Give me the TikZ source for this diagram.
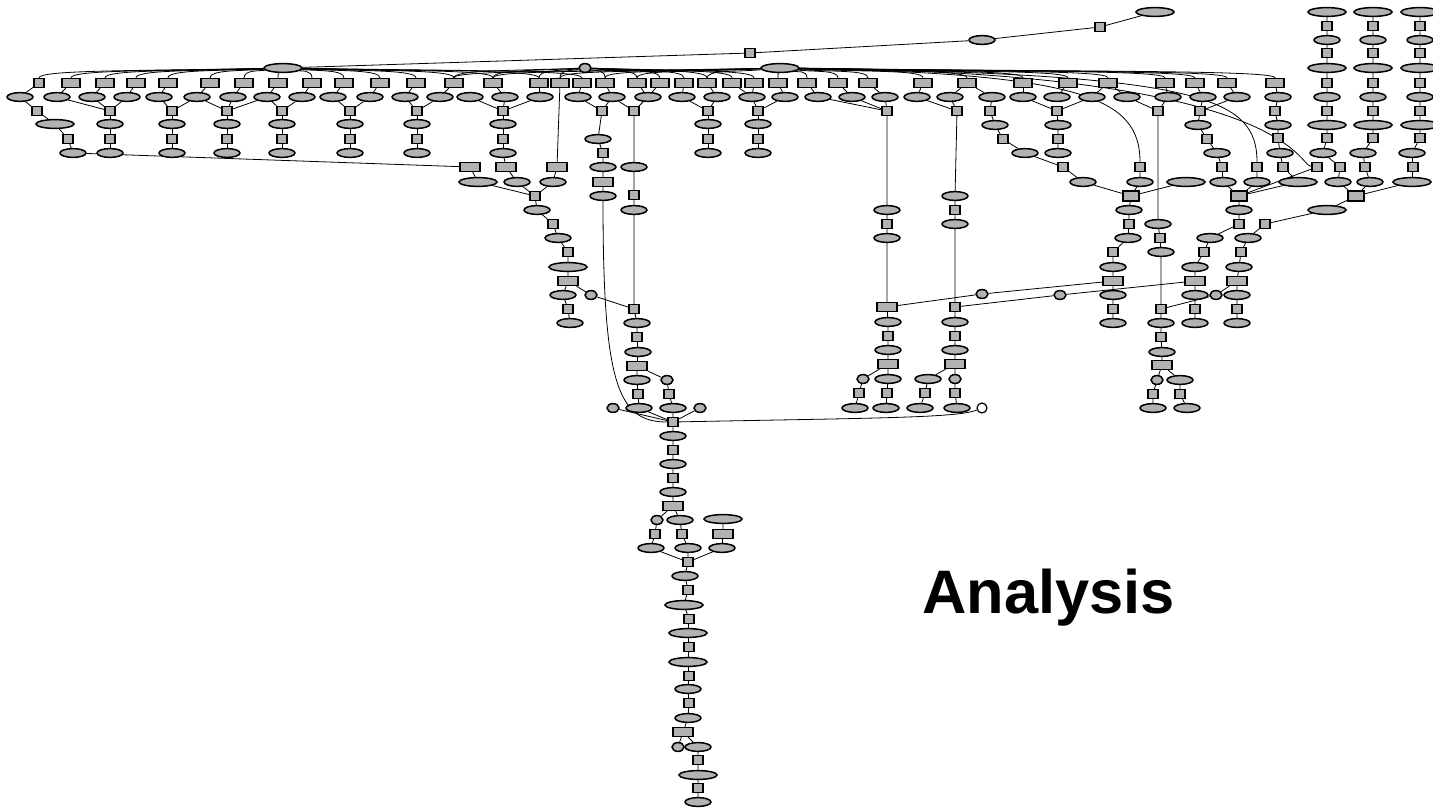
\documentclass[tikz,border=0pt]{standalone}
\usepackage{fontspec}
\setmainfont{Liberation Sans}
\usetikzlibrary{shapes.geometric,backgrounds}

\begin{document}
\begin{tikzpicture}[x=0.5pt,y=-0.5pt,
    el/.style={ellipse,draw,line width=0.75pt,fill=black!30,inner sep=0pt,minimum width=13pt,minimum height=4.4pt},
    wel/.style={el,minimum width=19pt},
    sel/.style={el,minimum width=6pt},
    bx/.style={rectangle,draw,line width=0.75pt,fill=black!30,inner sep=0pt,minimum width=5pt,minimum height=4.4pt},
    rbx/.style={bx,minimum width=9pt},
    wbx/.style={bx,minimum width=10pt},
    dbx/.style={bx,minimum width=8pt,minimum height=5pt,line width=1.1pt},
    circ/.style={circle,draw,line width=0.6pt,fill=white,inner sep=0pt,minimum size=5pt},
    wire/.style={line width=0.6pt}]
  \useasboundingbox (0,0) rectangle (1433,808);

  \node[wel] (top) at (1155,12) {};
  \node[bx] (tb) at (1100,27) {};
  \node[el] (te) at (982,40) {};
  \node[bx] (tc) at (750,53) {};
  \node[wel] (hubA) at (283,68) {};
  \node[sel] (hubB) at (585,68) {};
  \node[wel] (hubC) at (780,68) {};

  \node[bx] (r39) at (39,83) {};
  \foreach \x in {71,105,136,168,210,244,278,312,344,380,416,454,493,539,560,582,605,637,660,684,707,732,754,778,807,838,868,923,967,1023,1068,1108,1165,1195,1227,1275}
    \node[rbx] (r\x) at (\x,83) {};
  \foreach \x in {20,57,92,127,159,197,233,267,302,333,370,405,440,470,505,540,578,612,648,682,717,752,785,818,852,885,917,950,992,1023,1057,1092,1127,1168,1203,1237,1278}
    \node[el] (s\x) at (\x,97) {};
  \foreach \x in {37,110,172,227,282,350,417,503,602,634,708,758,887,957,990,1057,1158,1200,1275}
    \node[bx] (u\x) at (\x,111) {};
  \foreach \x in {110,172,227,282,350,417,503,708,758}{
    \node[el] (a\x) at (\x,124) {};
    \node[bx] (b\x) at (\x,139) {};
    \node[el] (c\x) at (\x,153) {};
  }

  \foreach \c/\d/\e in {1327/1323/1340,1373/1363/1365,1420/1412/1413}{
    \node[wel] (ga\c) at (\c,12) {};
    \node[bx] (gb\c) at (\c,26) {};
    \node[el] (gc\c) at (\c,40) {};
    \node[bx] (gd\c) at (\c,53) {};
    \node[wel] (ge\c) at (\c,68) {};
    \node[bx] (gf\c) at (\c,83) {};
    \node[el] (gg\c) at (\c,97) {};
    \node[bx] (gh\c) at (\c,111) {};
    \node[wel] (gi\c) at (\c,125) {};
    \node[bx] (gj\c) at (\c,138) {};
    \node[el] (gk\c) at (\d,153) {};
    \node[bx] (gl\c) at (\e,167) {};
  }

  \node[wel] (la) at (55,124) {};
  \node[bx] (lb) at (68,139) {};
  \node[el] (lc) at (73,153) {};

  \node[wbx] (m470) at (470,167) {};
  \node[wbx] (m506) at (506,167) {};
  \node[wbx] (m557) at (557,167) {};
  \node[wel] (m478) at (478,182) {};
  \node[el] (m517) at (517,182) {};
  \node[el] (m553) at (553,182) {};
  \node[bx] (n1) at (535,196) {};
  \node[el] (n2) at (537,210) {};
  \node[bx] (n3) at (553,224) {};
  \node[el] (n4) at (558,238) {};
  \node[bx] (n5) at (568,252) {};
  \node[wel] (n6) at (568,267) {};
  \node[wbx] (n7) at (568,281) {};
  \node[el] (n8) at (563,295) {};
  \node[sel] (n9) at (591,295) {};
  \node[bx] (n10) at (568,309) {};
  \node[el] (n11) at (570,323) {};

  \node[el] (p1) at (598,139) {};
  \node[bx] (p2) at (603,153) {};
  \node[el] (p3) at (603,167) {};
  \node[wbx] (p4) at (603,182) {};
  \node[el] (p5) at (603,196) {};

  \node[el] (q1) at (634,167) {};
  \node[bx] (q2) at (634,195) {};
  \node[el] (q3) at (634,210) {};
  \node[bx] (q4) at (634,309) {};
  \node[el] (q5) at (637,323) {};
  \node[bx] (q6) at (637,337) {};
  \node[el] (q7) at (638,352) {};
  \node[wbx] (q8) at (637,366) {};
  \node[el] (q9) at (637,380) {};
  \node[sel] (q10) at (667,380) {};
  \node[bx] (q11) at (638,394) {};
  \node[el] (q12) at (639,408) {};
  \node[bx] (q13) at (669,394) {};
  \node[el] (q14) at (673,408) {};
  \node[sel] (q15) at (613,408) {};
  \node[sel] (q16) at (700,408) {};

  \node[bx] (H) at (673,422) {};
  \node[el] (v1) at (673,436) {};
  \node[bx] (v2) at (673,450) {};
  \node[el] (v3) at (673,464) {};
  \node[bx] (v4) at (673,478) {};
  \node[el] (v5) at (673,492) {};
  \node[wbx] (v6) at (673,506) {};
  \node[sel] (v7) at (657,520) {};
  \node[el] (v8) at (680,520) {};
  \node[bx] (v9) at (655,534) {};
  \node[el] (v10) at (651,548) {};
  \node[bx] (v11) at (682,534) {};
  \node[el] (v12) at (688,548) {};
  \node[wel] (v13) at (723,519) {};
  \node[wbx] (v14) at (723,534) {};
  \node[el] (v15) at (722,548) {};
  \node[bx] (v16) at (688,562) {};
  \node[el] (v17) at (685,576) {};
  \node[bx] (v18) at (688,590) {};
  \node[wel] (v19) at (684,605) {};
  \node[bx] (v20) at (689,619) {};
  \node[wel] (v21) at (688,633) {};
  \node[bx] (v22) at (689,647) {};
  \node[wel] (v23) at (688,662) {};
  \node[bx] (v24) at (689,676) {};
  \node[el] (v25) at (688,689) {};
  \node[bx] (v26) at (689,703) {};
  \node[el] (v27) at (688,718) {};
  \node[wbx] (v28) at (683,732) {};
  \node[sel] (v29) at (678,747) {};
  \node[el] (v30) at (698,747) {};
  \node[bx] (v31) at (698,760) {};
  \node[wel] (v32) at (698,775) {};
  \node[bx] (v33) at (698,788) {};
  \node[el] (v34) at (698,802) {};

  \node[el] (w1) at (887,210) {};
  \node[bx] (w2) at (887,224) {};
  \node[el] (w3) at (887,238) {};
  \node[wbx] (w4) at (887,307) {};
  \node[el] (w5) at (888,322) {};
  \node[bx] (w6) at (888,336) {};
  \node[el] (w7) at (888,350) {};
  \node[wbx] (w8) at (888,364) {};
  \node[sel] (w9) at (863,379) {};
  \node[el] (w10) at (888,379) {};
  \node[bx] (w11) at (859,393) {};
  \node[el] (w12) at (855,408) {};
  \node[bx] (w13) at (887,393) {};
  \node[el] (w14) at (886,408) {};

  \node[el] (x1) at (955,196) {};
  \node[bx] (x2) at (955,210) {};
  \node[el] (x3) at (955,224) {};
  \node[bx] (x4) at (955,307) {};
  \node[el] (x5) at (955,322) {};
  \node[bx] (x6) at (955,336) {};
  \node[el] (x7) at (955,350) {};
  \node[wbx] (x8) at (955,364) {};
  \node[el] (x9) at (928,379) {};
  \node[sel] (x10) at (955,379) {};
  \node[bx] (x11) at (925,393) {};
  \node[el] (x12) at (920,408) {};
  \node[bx] (x13) at (955,393) {};
  \node[el] (x14) at (957,408) {};
  \node[circ] (circ) at (982,408) {};
  \node[sel] (y1) at (982,294) {};
  \node[sel] (y2) at (1060,295) {};

  \node[el] (k1) at (995,125) {};
  \node[bx] (k2) at (1003,139) {};
  \node[el] (k3) at (1025,153) {};
  \node[bx] (k4) at (1063,167) {};
  \node[el] (k5) at (1083,182) {};
  \node[el] (k6) at (1058,125) {};
  \node[bx] (k7) at (1058,139) {};
  \node[el] (k8) at (1058,153) {};
  \node[bx] (k9) at (1140,167) {};
  \node[el] (k10) at (1140,182) {};
  \node[wel] (k11) at (1186,182) {};
  \node[dbx] (K) at (1131,196) {};
  \node[el] (k12) at (1158,224) {};
  \node[bx] (k13) at (1160,238) {};
  \node[el] (k14) at (1161,252) {};
  \node[bx] (k15) at (1161,309) {};
  \node[el] (k16) at (1129,210) {};
  \node[bx] (k17) at (1129,224) {};
  \node[el] (k18) at (1128,238) {};
  \node[bx] (k19) at (1113,252) {};
  \node[el] (k20) at (1113,267) {};
  \node[wbx] (k21) at (1113,281) {};
  \node[el] (k22) at (1113,295) {};
  \node[bx] (k23) at (1113,309) {};
  \node[el] (k24) at (1113,323) {};

  \node[el] (j1) at (1198,125) {};
  \node[bx] (j2) at (1207,139) {};
  \node[el] (j3) at (1217,153) {};
  \node[bx] (j4) at (1222,167) {};
  \node[el] (j5) at (1223,182) {};
  \node[bx] (j6) at (1257,167) {};
  \node[el] (j7) at (1257,182) {};
  \node[el] (j8) at (1278,125) {};
  \node[bx] (j9) at (1278,138) {};
  \node[el] (j10) at (1280,153) {};
  \node[bx] (j11) at (1283,167) {};
  \node[wel] (j12) at (1298,182) {};
  \node[dbx] (J) at (1239,196) {};
  \node[el] (j13) at (1239,210) {};
  \node[bx] (j14) at (1239,224) {};
  \node[el] (j15) at (1210,238) {};
  \node[bx] (j16) at (1204,252) {};
  \node[el] (j17) at (1195,267) {};
  \node[wbx] (j18) at (1195,281) {};
  \node[el] (j19) at (1195,295) {};
  \node[bx] (j20) at (1195,309) {};
  \node[el] (j21) at (1195,323) {};

  \node[bx] (i1) at (1317,167) {};
  \node[el] (i2) at (1338,182) {};
  \node[el] (i4) at (1370,182) {};
  \node[wel] (i7) at (1412,182) {};
  \node[dbx] (I) at (1356,196) {};
  \node[wel] (i8) at (1327,210) {};
  \node[bx] (i9) at (1265,224) {};
  \node[el] (i10) at (1248,238) {};
  \node[bx] (i11) at (1241,252) {};
  \node[el] (i12) at (1239,267) {};
  \node[wbx] (i13) at (1237,281) {};
  \node[el] (i14) at (1237,295) {};
  \node[sel] (i17) at (1216,295) {};
  \node[bx] (i15) at (1237,309) {};
  \node[el] (i16) at (1237,323) {};

  \node[el] (h1) at (1161,323) {};
  \node[bx] (h2) at (1161,337) {};
  \node[el] (h3) at (1162,352) {};
  \node[wbx] (h4) at (1162,365) {};
  \node[sel] (h5) at (1157,380) {};
  \node[el] (h6) at (1180,380) {};
  \node[bx] (h7) at (1153,394) {};
  \node[el] (h8) at (1153,408) {};
  \node[bx] (h9) at (1180,394) {};
  \node[el] (h10) at (1187,408) {};

  \node[font=\bfseries\fontsize{30.7}{36}\selectfont,anchor=base west,inner sep=0pt] (title) at (922,613) {Analysis};

  \begin{scope}[on background layer,wire]
    \draw (hubA) -- (tc) -- (te) -- (tb) -- (top);
    \foreach \x [evaluate=\x as \d using {(\x-283)*0.6}] in {39,71,105,136,168,210,244,278,312,344,380,416,454,493,539,582}
      \draw (hubA) .. controls +(\d,3) and +(0,-8) .. (r\x.north);
    \foreach \x [evaluate=\x as \d using {(\x-585)*0.6}] in {454,493,539,560,605,637,660,684,707,732,754}
      \draw (hubB) .. controls +(\d,3) and +(0,-8) .. (r\x.north);
    \foreach \x [evaluate=\x as \d using {(\x-780)*0.6}] in {454,493,560,605,637,707,778,807,838,868,923,967,1023,1068,1108,1165,1195,1227,1275}
      \draw (hubC) .. controls +(\d,4) and +(0,-8) .. (r\x.north);
    \draw (hubC) .. controls +(300,6) and +(0,-70) .. (k9);
    \draw (hubC) .. controls +(420,6) and +(0,-70) .. (j6);
    \draw (hubC) .. controls +(510,4) and +(-20,-2) .. (i1);

    \foreach \a/\b in {39/20,71/57,105/92,136/127,168/159,210/197,244/233,278/267,312/302,344/333,380/370,416/405,454/440,493/505,539/540,582/578,605/612,637/648,660/648,684/682,707/717,732/752,754/752,778/785,807/818,838/852,868/885,923/917,967/950,967/992,1023/1023,1068/1057,1108/1092,1108/1127,1165/1168,1195/1203,1227/1237,1275/1278}
      \draw (r\a) -- (s\b);
    \foreach \a/\b in {20/37,57/110,92/110,127/110,159/172,197/172,197/227,233/227,267/227,267/282,302/282,333/350,370/350,405/417,440/417,470/503,505/503,540/503,578/602,612/602,612/634,648/634,682/708,717/708,752/758,785/758,818/887,852/887,885/887,917/957,950/957,992/990,1023/1057,1092/1057,1127/1158,1168/1158,1203/1200,1237/1200,1278/1275}
      \draw (s\a) -- (u\b);
    \foreach \x in {110,172,227,282,350,417,503,708,758}
      \draw (u\x) -- (a\x) -- (b\x) -- (c\x);
    \foreach \c in {1327,1373,1420}
      \draw (ga\c) -- (gb\c) -- (gc\c) -- (gd\c) -- (ge\c) -- (gf\c) -- (gg\c) -- (gh\c) -- (gi\c) -- (gj\c) -- (gk\c) -- (gl\c);

    \draw (u37) -- (la) -- (lb) -- (lc) -- (m470);
    \draw (c503) -- (m506) -- (m517) -- (n1);
    \draw (r560) -- (m557) -- (m553) -- (n1);
    \draw (m470) -- (m478) -- (n1);
    \draw (n1) -- (n2) -- (n3) -- (n4) -- (n5) -- (n6) -- (n7) -- (n8) -- (n10) -- (n11);
    \draw (n7) -- (n9) -- (q4);

    \draw (u602) -- (p1) -- (p2) -- (p3) -- (p4) -- (p5);
    \draw (p5) .. controls +(0,190) and +(-55,0) .. (H);
    \draw (u634) -- (q1) -- (q2) -- (q3) -- (q4) -- (q5) -- (q6) -- (q7) -- (q8) -- (q9) -- (q11) -- (q12) -- (H);
    \draw (q8) -- (q10) -- (q13) -- (q14) -- (H);
    \draw (q15) -- (H);
    \draw (q16) -- (H);
    \draw (H) .. controls +(200,-4) and +(-25,10) .. (circ);

    \draw (H) -- (v1) -- (v2) -- (v3) -- (v4) -- (v5) -- (v6) -- (v7) -- (v9) -- (v10) -- (v16);
    \draw (v6) -- (v8) -- (v11) -- (v12) -- (v16);
    \draw (v13) -- (v14) -- (v15) -- (v16);
    \draw (v16) -- (v17) -- (v18) -- (v19) -- (v20) -- (v21) -- (v22) -- (v23) -- (v24) -- (v25) -- (v26) -- (v27) -- (v28) -- (v29);
    \draw (v28) -- (v30) -- (v31) -- (v32) -- (v33) -- (v34);

    \draw (u887) -- (w1) -- (w2) -- (w3) -- (w4) -- (w5) -- (w6) -- (w7) -- (w8) -- (w9) -- (w11) -- (w12);
    \draw (w8) -- (w10) -- (w13) -- (w14);
    \draw (u957) -- (x1) -- (x2) -- (x3) -- (x4) -- (x5) -- (x6) -- (x7) -- (x8) -- (x9) -- (x11) -- (x12);
    \draw (x8) -- (x10) -- (x13) -- (x14);
    \draw (w4) -- (y1) -- (k21);
    \draw (x4) -- (y2) -- (j18);

    \draw (u990) -- (k1) -- (k2) -- (k3) -- (k4) -- (k5) -- (K);
    \draw (u1057) -- (k6) -- (k7) -- (k8);
    \draw (k9) -- (k10) -- (K);
    \draw (k11) -- (K);
    \draw (u1158) -- (k12) -- (k13) -- (k14) -- (k15);
    \draw (K) -- (k16) -- (k17) -- (k18) -- (k19) -- (k20) -- (k21) -- (k22) -- (k23) -- (k24);

    \draw (u1200) -- (j1) -- (j2) -- (j3) -- (j4) -- (j5) -- (J);
    \draw (j6) -- (j7) -- (J);
    \draw (u1275) -- (j8) -- (j9) -- (j10) -- (j11) -- (j12) -- (J);
    \draw (i1) -- (J);
    \draw (J) -- (j13) -- (j14) -- (j15) -- (j16) -- (j17) -- (j18) -- (j19) -- (j20) -- (j21);

    \draw (gl1327) -- (i2) -- (I);
    \draw (gl1373) -- (i4) -- (I);
    \draw (gl1420) -- (i7) -- (I);
    \draw (I) -- (i8) -- (i9) -- (i10) -- (i11) -- (i12) -- (i13) -- (i14) -- (i15) -- (i16);
    \draw (i13) -- (i17) -- (k15);

    \draw (k15) -- (h1) -- (h2) -- (h3) -- (h4) -- (h5) -- (h7) -- (h8);
    \draw (h4) -- (h6) -- (h9) -- (h10);
  \end{scope}
\end{tikzpicture}
\end{document}
